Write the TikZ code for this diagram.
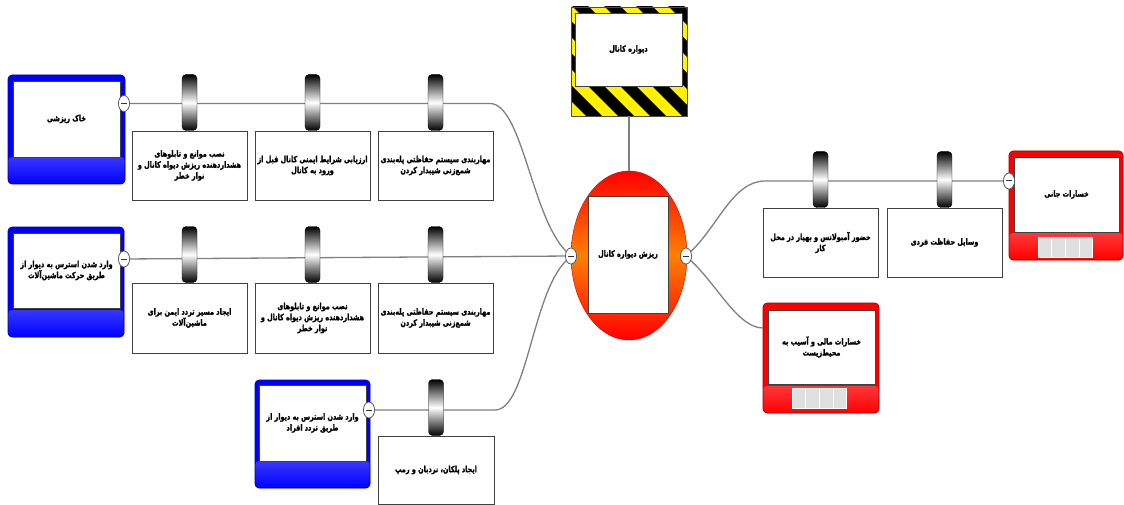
\documentclass[tikz,border=0pt]{standalone}
\usepackage{fontspec}
\usetikzlibrary{shapes.geometric}
\newfontfamily\fafont[Script=Arabic, FakeStretch=0.76, FakeBold=1.5]{DejaVu Sans}
\TeXXeTstate=1
\newcommand{\fa}[1]{\beginR #1\endR}
\tikzset{
  conn/.style={draw=black!50, line width=1.3pt},
  frame/.style={rounded corners=4pt, draw=#1!60!black, fill=#1, line width=0.6pt, inner sep=0pt,
    path picture={\shade[top color=#1!12, bottom color=#1]
      ([yshift=27pt]path picture bounding box.south west) rectangle (path picture bounding box.south east);}},
  innerbox/.style={draw=black!75, fill=white, line width=0.6pt, inner sep=1pt, align=center},
  barrier/.style={draw=black!75, fill=white, line width=0.6pt, minimum width=115pt, minimum height=69pt, inner sep=1pt, align=center},
  handle/.style={rounded corners=4pt, minimum width=15pt, minimum height=56pt, inner sep=0pt, anchor=south,
    top color=black, bottom color=black, middle color=white, draw=black, line width=0.4pt},
  minus/.style={ellipse, draw=black!70, fill=white, line width=0.6pt, minimum width=11pt, minimum height=16pt, inner sep=0pt,
    path picture={\draw[line width=1pt, black!80] ([xshift=-3pt]path picture bounding box.center) -- ([xshift=3pt]path picture bounding box.center);}},
  sq/.style={fill=black!12, draw=white, line width=1pt, minimum width=13.75pt, minimum height=20pt, inner sep=0pt},
}
\begin{document}
\begin{tikzpicture}[x=1pt, y=-1pt, font=\fafont\bfseries\fontsize{8.5}{11}\selectfont]
\useasboundingbox[fill=white] (0,0) rectangle (1124,505);

% ---------- hazard ----------
\begin{scope}
  \clip (571,7) rectangle (687,116);
  \fill[yellow] (571,7) rectangle (687,116);
  \foreach \i in {0,...,9} \fill[black] ({470+\i*32},0) -- ++(16,0) -- ++(125,125) -- ++(-16,0) -- cycle;
\end{scope}
\node[draw=black!70, line width=0.6pt, minimum width=116pt, minimum height=109pt, inner sep=0pt] (H) at (629,61.5) {};
\node[innerbox, minimum width=107pt, minimum height=73pt] (Hin) at (628.5,49.5) {\fa{دیواره کانال}};

% ---------- top event ----------
\node[ellipse, minimum width=116pt, minimum height=169pt, inner sep=0pt, top color=red, bottom color=red, middle color=orange, draw=red!80!black, line width=0.4pt] (TE) at (629,255.5) {};
\node[innerbox, minimum width=80pt, minimum height=117pt] (TEin) at (628,254.5) {\fa{ریزش دیواره کانال}};
\draw[conn] (H) -- (TE);

% ---------- threats ----------
\node[frame=blue, minimum width=117pt, minimum height=109pt] (T1) at (66.5,129.5) {};
\node[innerbox, minimum width=107pt, minimum height=76pt] (T1in) at (66.5,119) {\fa{خاک ریزشی}};
\node[frame=blue, minimum width=116pt, minimum height=110pt] (T2) at (66,282) {};
\node[innerbox, minimum width=107pt, minimum height=75pt] (T2in) at (66.5,270.5) {\fa{وارد شدن استرس به دیوار از}\\\fa{طریق حرکت ماشین‌آلات}};
\node[frame=blue, minimum width=115pt, minimum height=108pt] (T3) at (312.5,434) {};
\node[innerbox, minimum width=107pt, minimum height=76pt] (T3in) at (312.5,423) {\fa{وارد شدن استرس به دیوار از}\\\fa{طریق تردد افراد}};

% ---------- consequences ----------
\node[frame=red, minimum width=114pt, minimum height=109pt] (C1) at (1066,205.5) {};
\node[innerbox, minimum width=105pt, minimum height=75pt] (C1in) at (1066.5,194.5) {\fa{خسارات جانی}};
\foreach \k [count=\n] in {1044.9,1058.6,1072.4,1086.1} \node[sq] (C1s\n) at (\k,247) {};
\node[frame=red, minimum width=116pt, minimum height=110pt] (C2) at (821,358) {};
\node[innerbox, minimum width=107pt, minimum height=74pt] (C2in) at (821.5,347) {\fa{خسارات مالی و آسیب به}\\\fa{محیط‌زیست}};
\foreach \k [count=\n] in {798.9,812.6,826.4,840.1} \node[sq] (C2s\n) at (\k,398) {};

% ---------- minus markers ----------
\node[minus] (m1) at (124,103.5) {};
\node[minus] (m2) at (124,259) {};
\node[minus] (m3) at (369,410) {};
\node[minus] (mL) at (571,256) {};
\node[minus] (mR) at (686,256) {};
\node[minus] (mC1) at (1009,181) {};
\coordinate (c2in) at (763,328);

% ---------- connectors ----------
\draw[conn] (m1) -- (490,103.5) .. controls (522,103.5) and (532,218) .. (mL);
\draw[conn] (m2) -- (mL);
\draw[conn] (m3) -- (495,410) .. controls (527,410) and (532,294) .. (mL);
\draw[conn] (mR) .. controls (718,226) and (733,181) .. (765,181) -- (mC1);
\draw[conn] (mR) .. controls (718,286) and (738,328) .. (c2in);

% redraw minus markers on top
\foreach \m in {m1,m2,m3,mL,mR,mC1} \node[minus] at (\m) {};

% ---------- barriers ----------
\node[barrier] (b11) at (189.5,165.5) {\fa{نصب موانع و تابلوهای}\\\fa{هشداردهنده ریزش دیواه کانال و}\\\fa{نوار خطر}};
\node[barrier] (b12) at (312.5,165.5) {\fa{ارزیابی شرایط ایمنی کانال قبل از}\\\fa{ورود به کانال}};
\node[barrier] (b13) at (435.5,165.5) {\fa{مهاربندی سیستم حفاظتی پله‌بندی}\\\fa{شمع‌زنی شیبدار کردن}};
\node[barrier, minimum height=70pt] (b21) at (189.5,318) {\fa{ایجاد مسیر تردد ایمن برای}\\\fa{ماشین‌آلات}};
\node[barrier, minimum height=70pt] (b22) at (312.5,318) {\fa{نصب موانع و تابلوهای}\\\fa{هشداردهنده ریزش دیواه کانال و}\\\fa{نوار خطر}};
\node[barrier, minimum height=70pt] (b23) at (435.5,318) {\fa{مهاربندی سیستم حفاظتی پله‌بندی}\\\fa{شمع‌زنی شیبدار کردن}};
\node[barrier, minimum width=116pt, minimum height=68pt] (b31) at (436,470) {\fa{ایجاد پلکان، نردبان و رمپ}};
\node[barrier] (r1) at (820.5,242.5) {\fa{حضور آمبولانس و بهیار در محل}\\\fa{کار}};
\node[barrier] (r2) at (944.5,242.5) {\fa{وسایل حفاظت فردی}};

\foreach \b in {b11,b12,b13,b21,b22,b23,b31,r1,r2} \node[handle] (h\b) at (\b.north) {};
\end{tikzpicture}
\end{document}
